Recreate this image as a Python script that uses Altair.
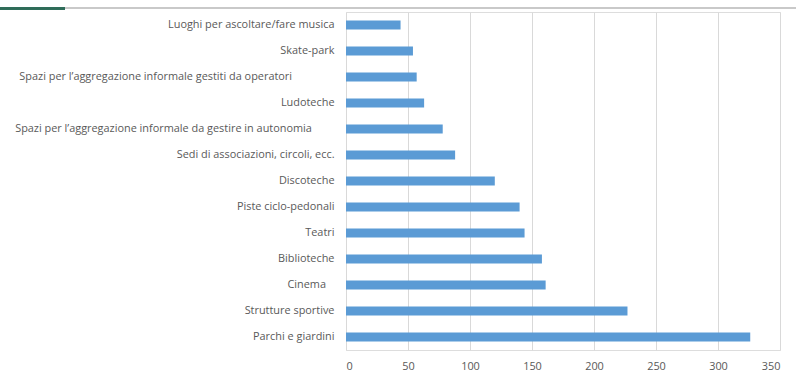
import altair as alt
import pandas as pd

categories = [
    "Luoghi per ascoltare/fare musica",
    "Skate-park",
    "Spazi per l\u2019aggregazione informale gestiti da operatori",
    "Ludoteche",
    "Spazi per l\u2019aggregazione informale da gestire in autonomia",
    "Sedi di associazioni, circoli, ecc.",
    "Discoteche",
    "Piste ciclo-pedonali",
    "Teatri",
    "Biblioteche",
    "Cinema",
    "Strutture sportive",
    "Parchi e giardini",
]
values = [44, 54, 57, 63, 78, 88, 120, 140, 144, 158, 161, 227, 326]
x_ticks = [0, 50, 100, 150, 200, 250, 300, 350]

df = pd.DataFrame({"categoria": categories, "valore": values})

FONT = "Open Sans"

# Excel places the longest labels a little left of the others; mimic with trailing spaces
NB = "\u00a0"
END = "\u200b"
label_expr = (
    f"indexof(datum.value, 'operatori') >= 0 ? datum.value + '{NB * 15}{END}' : "
    f"indexof(datum.value, 'autonomia') >= 0 ? datum.value + '{NB * 8}{END}' : "
    f"datum.value == 'Cinema' ? datum.value + '{NB * 3}{END}' : datum.value"
)

bars = alt.Chart(df).mark_bar(color="#5b9bd5").encode(
    x=alt.X(
        "valore:Q",
        scale=alt.Scale(domain=[0, 350], nice=False),
        axis=alt.Axis(
            values=x_ticks,
            title=None,
            domain=False,
            ticks=False,
            grid=True,
            gridColor="#d9d9d9",
            gridWidth=1,
            labelColor="#595959",
            labelFont=FONT,
            labelFontSize=10.9,
            labelPadding=10,
        ),
    ),
    y=alt.Y(
        "categoria:N",
        sort=categories,
        scale=alt.Scale(paddingInner=0.65, paddingOuter=0.325),
        axis=alt.Axis(
            title=None,
            domain=False,
            ticks=False,
            labelColor="#595959",
            labelFont=FONT,
            labelFontSize=10.9,
            labelPadding=12,
            labelLimit=400,
            labelExpr=label_expr,
        ),
    ),
)

top_line = alt.Chart(df).mark_rule(color="#c8c8c8", strokeWidth=1.5).encode(
    x=alt.value(-346), x2=alt.value(450), y=alt.value(-4)
)
green_line = alt.Chart(df).mark_rule(color="#2f6b58", strokeWidth=1.5).encode(
    x=alt.value(-346), x2=alt.value(-281), y=alt.value(-3.5)
)

chart = (
    alt.layer(bars, top_line, green_line)
    .properties(
        width=434,
        height=338,
        autosize=alt.AutoSizeParams(type="none"),
        padding={"left": 346, "top": 12, "right": 16, "bottom": 26},
    )
    .configure_view(stroke=None)
    .configure(background="white")
)

chart.save("out.html", embed_options={"renderer": "svg", "actions": False})
